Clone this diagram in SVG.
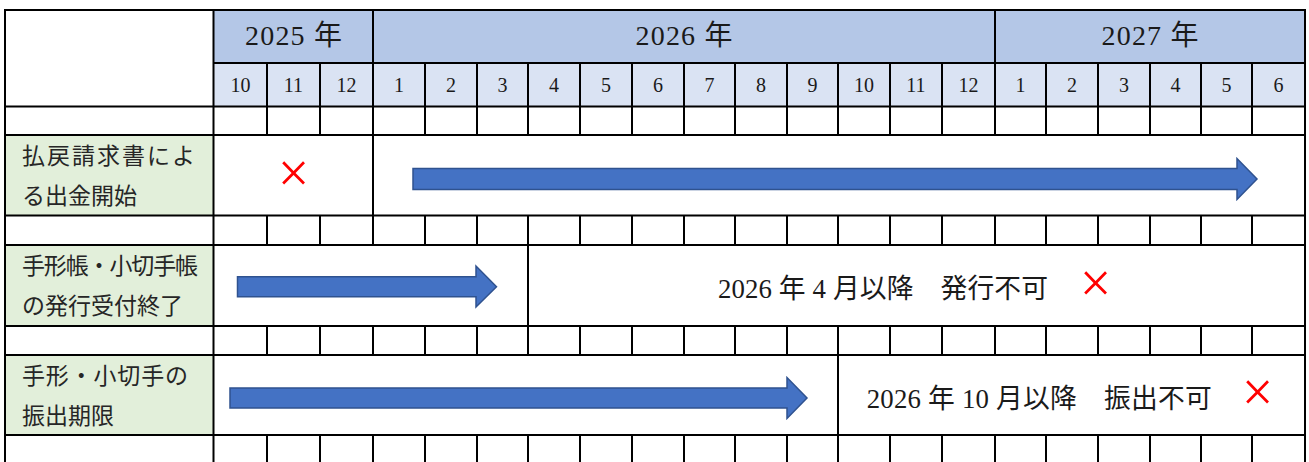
<svg xmlns="http://www.w3.org/2000/svg" width="1309" height="462" viewBox="0 0 1309 462">
<style>
.grid{stroke:#000;stroke-width:2;fill:none}
.yr{font-family:"Liberation Serif","Noto Sans CJK JP",serif;font-size:28px;fill:#1a1a1a;text-anchor:middle}
.mo{font-family:"Liberation Serif","Noto Sans CJK JP",serif;font-size:20px;fill:#1a1a1a;text-anchor:middle}
.lbl{font-family:"Noto Sans CJK JP",sans-serif;font-size:23px;fill:#262626}
.note{font-family:"Liberation Serif","Noto Sans CJK JP",serif;font-size:26.8px;fill:#1a1a1a}
.x{font-family:"Liberation Serif",serif;font-size:56px;fill:#ff0000;text-anchor:middle}
.arrow{fill:#4472c4;stroke:#2f528f;stroke-width:1.5}
</style>
<rect width="1309" height="462" fill="#fff"/>
<g id="fills">
<rect x="213.5" y="10" width="1091.5" height="53" fill="#b4c7e7"/>
<rect x="213.5" y="63" width="1091.5" height="43.5" fill="#dae3f3"/>
<rect x="5" y="135" width="208.5" height="80.5" fill="#e2efda"/>
<rect x="5" y="245" width="208.5" height="81" fill="#e2efda"/>
<rect x="5" y="355" width="208.5" height="80" fill="#e2efda"/>
</g>
<g id="grid" class="grid">
<path d="M5 10H1305M213.5 63H1305M5 106.5H1305M5 135H1305M5 215.5H1305M5 245H1305M5 326H1305M5 355H1305M5 435H1305"/>
<path d="M5 9V470M213.5 9V470M1305 9V470M373 10V63M995 10V63"/>
<path d="M373 135V215.5M528 245V326M838 355V435"/>
<path d="M267 63V135M320 63V135M373 63V135M425 63V135M477 63V135M528 63V135M580 63V135M632 63V135M684 63V135M735 63V135M787 63V135M838 63V135M890 63V135M942 63V135M995 63V135M1046 63V135M1098 63V135M1150 63V135M1201 63V135M1252 63V135"/>
<path d="M267 215.5V245M320 215.5V245M373 215.5V245M425 215.5V245M477 215.5V245M528 215.5V245M580 215.5V245M632 215.5V245M684 215.5V245M735 215.5V245M787 215.5V245M838 215.5V245M890 215.5V245M942 215.5V245M995 215.5V245M1046 215.5V245M1098 215.5V245M1150 215.5V245M1201 215.5V245M1252 215.5V245"/>
<path d="M267 326V355M320 326V355M373 326V355M425 326V355M477 326V355M528 326V355M580 326V355M632 326V355M684 326V355M735 326V355M787 326V355M838 326V355M890 326V355M942 326V355M995 326V355M1046 326V355M1098 326V355M1150 326V355M1201 326V355M1252 326V355"/>
<path d="M267 435V470M320 435V470M373 435V470M425 435V470M477 435V470M528 435V470M580 435V470M632 435V470M684 435V470M735 435V470M787 435V470M838 435V470M890 435V470M942 435V470M995 435V470M1046 435V470M1098 435V470M1150 435V470M1201 435V470M1252 435V470"/>
</g>
<g id="years">
<text class="yr" x="293.5" y="45" textLength="97" lengthAdjust="spacing">2025 年</text>
<text class="yr" x="684" y="45" textLength="97" lengthAdjust="spacing">2026 年</text>
<text class="yr" x="1150" y="45" textLength="97" lengthAdjust="spacing">2027 年</text>
</g>
<g id="months">
<text class="mo" x="240.5" y="92">10</text>
<text class="mo" x="293.5" y="92">11</text>
<text class="mo" x="346.5" y="92">12</text>
<text class="mo" x="399" y="92">1</text>
<text class="mo" x="451" y="92">2</text>
<text class="mo" x="502.5" y="92">3</text>
<text class="mo" x="554" y="92">4</text>
<text class="mo" x="606" y="92">5</text>
<text class="mo" x="658" y="92">6</text>
<text class="mo" x="709.5" y="92">7</text>
<text class="mo" x="761" y="92">8</text>
<text class="mo" x="812.5" y="92">9</text>
<text class="mo" x="864" y="92">10</text>
<text class="mo" x="916" y="92">11</text>
<text class="mo" x="968.5" y="92">12</text>
<text class="mo" x="1020.5" y="92">1</text>
<text class="mo" x="1072" y="92">2</text>
<text class="mo" x="1124" y="92">3</text>
<text class="mo" x="1175.5" y="92">4</text>
<text class="mo" x="1226.5" y="92">5</text>
<text class="mo" x="1278.5" y="92">6</text>
</g>
<g id="row-haraimodoshi">
<text class="lbl" x="22" y="163.5" textLength="173" lengthAdjust="spacing">払戻請求書によ</text>
<text class="lbl" x="22" y="203.5">る出金開始</text>
<text class="x" x="293.5" y="191.5">×</text>
<path class="arrow" d="M413 168.5H1237V158.5L1257 179L1237 199.5V189.5H413Z"/>
</g>
<g id="row-techouhakkou">
<text class="lbl" x="22" y="274" textLength="176" lengthAdjust="spacing">手形帳・小切手帳</text>
<text class="lbl" x="22" y="314">の発行受付終了</text>
<path class="arrow" d="M237.5 276.7H476V266L496.5 286.7L476 307V296.7H237.5Z"/>
<text class="note" x="718" y="298.3" textLength="330" lengthAdjust="spacing">2026 年 4 月以降　発行不可</text>
<text class="x" x="1095.5" y="301.5">×</text>
</g>
<g id="row-furidashi">
<text class="lbl" x="22" y="384" textLength="166" lengthAdjust="spacing">手形・小切手の</text>
<text class="lbl" x="22" y="424">振出期限</text>
<path class="arrow" d="M230 388H787V377.5L807 398L787 418.5V408H230Z"/>
<text class="note" x="866.7" y="408.3" textLength="345" lengthAdjust="spacing">2026 年 10 月以降　振出不可</text>
<text class="x" x="1257.5" y="411">×</text>
</g>
</svg>
